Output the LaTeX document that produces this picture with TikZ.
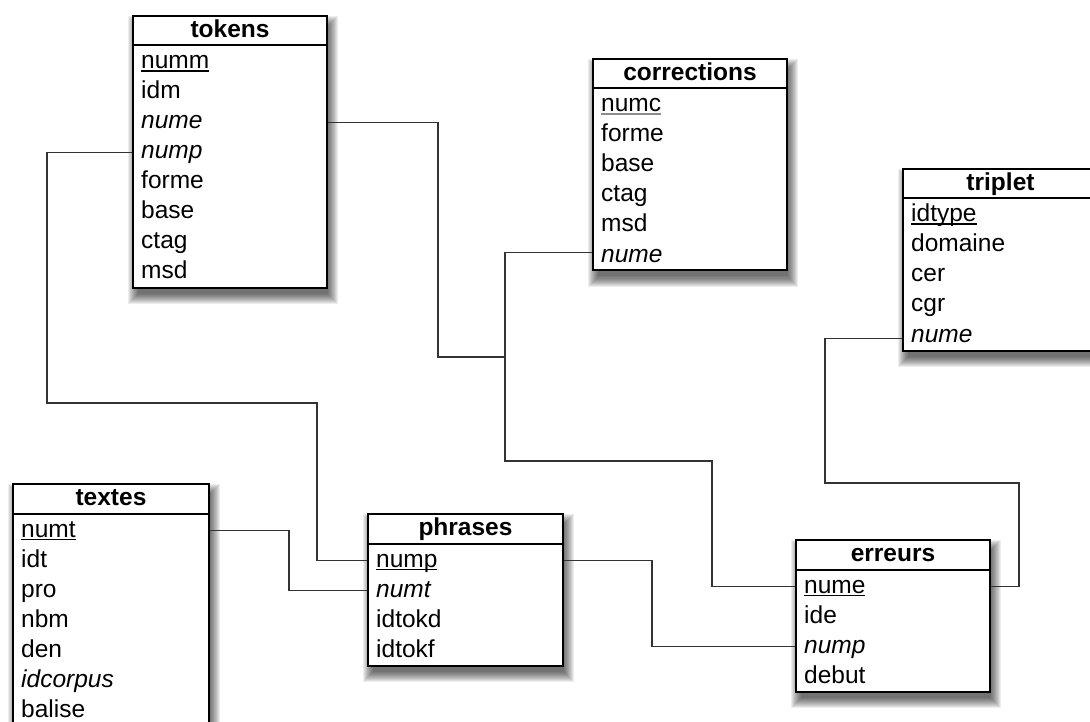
\documentclass[tikz,border=0pt]{standalone}
\usepackage{fontspec}
\setmainfont{Liberation Sans}
\tikzset{
  hdr/.style={draw=black, line width=2pt, fill=white, inner sep=0pt,
    font=\fontsize{24.5}{29}\selectfont\bfseries, text height=18pt, text depth=5pt},
  bodybox/.style={draw=black, line width=2pt, fill=white, inner sep=0pt},
  fldst/.style={inner sep=0pt, anchor=base west,
    font=\fontsize{24.5}{29}\selectfont, text height=18pt, text depth=5pt},
  link/.style={draw=black!80, line width=1.3pt},
  shadowlayer/.style={fill=black, opacity=0.07},
}
\newcommand\pkey[2][black]{\setbox0\hbox{#2}\rlap{\color{#1}\rule[-3pt]{\wd0}{1.5pt}}\box0}
\newcommand\dbtable[6]{%
  \pgfmathsetmacro\tL{#2}\pgfmathsetmacro\tT{#3}\pgfmathsetmacro\tR{#4}%
  \pgfmathsetmacro\tW{#4-#2}%
  \pgfmathsetmacro\tB{#3+29.5+#5*30+2}%
  \pgfmathsetmacro\tBH{#5*30+2}%
  \foreach \r in {-2,-1,0,...,8}{\fill[shadowlayer] (\tL+4-\r,\tT+9-\r) rectangle (\tR+4+\r,\tB+9+\r);}
  \node[hdr, minimum width=\tW pt, minimum height=29.5pt, anchor=north west] (#1-h) at (\tL,\tT) {#6};
  \node[bodybox, minimum width=\tW pt, minimum height=\tBH pt, anchor=north west] (#1) at (\tL,\tT+29.5) {};
}
\newcommand\dbfield[6]{\node[fldst] (#1-#5) at ({#2+9},{#3+54+30*#4}) {#6};}
\begin{document}
\begin{tikzpicture}[x=1pt,y=-1pt]
\useasboundingbox (0,0) rectangle (1090,722);
\clip (0,0) rectangle (1090,722);

% tokens
\dbtable{tokens}{132}{15}{326}{8}{tokens}
\dbfield{tokens}{132}{15}{0}{numm}{\pkey{numm}}
\dbfield{tokens}{132}{15}{1}{idm}{idm}
\dbfield{tokens}{132}{15}{2}{nume}{\itshape nume}
\dbfield{tokens}{132}{15}{3}{nump}{\itshape nump}
\dbfield{tokens}{132}{15}{4}{forme}{forme}
\dbfield{tokens}{132}{15}{5}{base}{base}
\dbfield{tokens}{132}{15}{6}{ctag}{ctag}
\dbfield{tokens}{132}{15}{7}{msd}{msd}

% corrections
\dbtable{corrections}{592}{58}{786}{6}{corrections}
\dbfield{corrections}{592}{58}{0}{numc}{\pkey[black!45]{numc}}
\dbfield{corrections}{592}{58}{1}{forme}{forme}
\dbfield{corrections}{592}{58}{2}{base}{base}
\dbfield{corrections}{592}{58}{3}{ctag}{ctag}
\dbfield{corrections}{592}{58}{4}{msd}{msd}
\dbfield{corrections}{592}{58}{5}{nume}{\itshape nume}

% triplet
\dbtable{triplet}{902}{168}{1097}{5}{triplet}
\dbfield{triplet}{902}{168}{0}{idtype}{\pkey{idtype}}
\dbfield{triplet}{902}{168}{1}{domaine}{domaine}
\dbfield{triplet}{902}{168}{2}{cer}{cer}
\dbfield{triplet}{902}{168}{3}{cgr}{cgr}
\dbfield{triplet}{902}{168}{4}{nume}{\itshape nume}

% textes
\dbtable{textes}{12}{483}{208}{7}{textes}
\dbfield{textes}{12}{483}{0}{numt}{\pkey{numt}}
\dbfield{textes}{12}{483}{1}{idt}{idt}
\dbfield{textes}{12}{483}{2}{pro}{pro}
\dbfield{textes}{12}{483}{3}{nbm}{nbm}
\dbfield{textes}{12}{483}{4}{den}{den}
\dbfield{textes}{12}{483}{5}{idcorpus}{\itshape idcorpus}
\dbfield{textes}{12}{483}{6}{balise}{balise}

% phrases
\dbtable{phrases}{367}{513}{562}{4}{phrases}
\dbfield{phrases}{367}{513}{0}{nump}{\pkey{nump}}
\dbfield{phrases}{367}{513}{1}{numt}{\itshape numt}
\dbfield{phrases}{367}{513}{2}{idtokd}{idtokd}
\dbfield{phrases}{367}{513}{3}{idtokf}{idtokf}

% erreurs
\dbtable{erreurs}{795}{539}{989}{4}{erreurs}
\dbfield{erreurs}{795}{539}{0}{nume}{\pkey{nume}}
\dbfield{erreurs}{795}{539}{1}{ide}{ide}
\dbfield{erreurs}{795}{539}{2}{nump}{\itshape nump}
\dbfield{erreurs}{795}{539}{3}{debut}{debut}

% connectors
\coordinate (j) at (505,357);
\draw[link] (tokens.west |- tokens-nump) -| (47,403) -| (317,450) |- (phrases.west |- phrases-nump);
\draw[link] (textes.east |- textes-numt) -| (289,560) |- (phrases.west |- phrases-numt);
\draw[link] (phrases.east |- phrases-nump) -| (652,600) |- (erreurs.west |- erreurs-nump);
\draw[link] (tokens.east |- tokens-nume) -| (438,300) |- (j);
\draw[link] ([yshift=3pt]corrections.west |- corrections-nume) -| (505,461) -| (712,520) |- (erreurs.west |- erreurs-nume);
\draw[link] ([yshift=-3pt]triplet.west |- triplet-nume) -| (825,483) -| (1019,540) |- (erreurs.east |- erreurs-nume);
\end{tikzpicture}
\end{document}
